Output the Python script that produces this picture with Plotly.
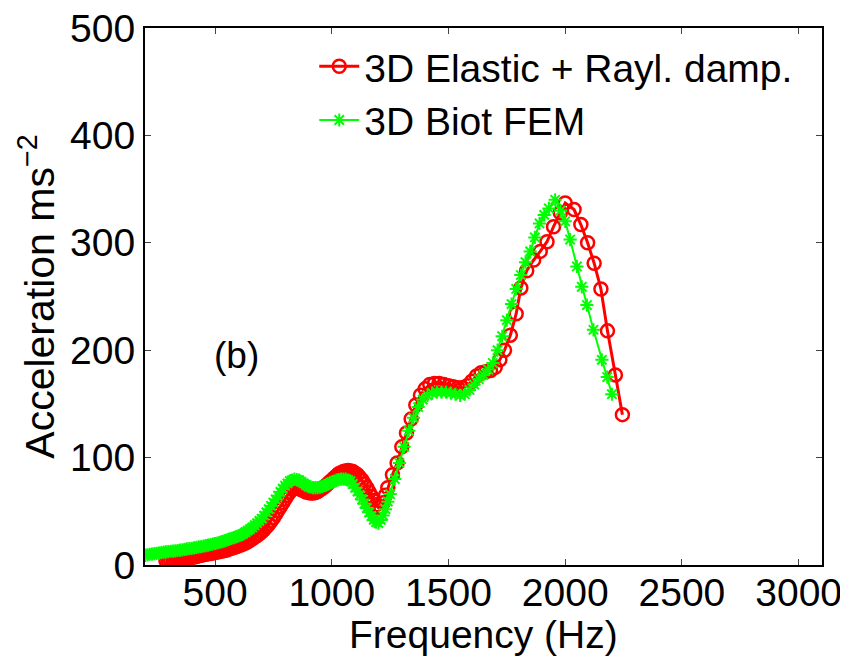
import plotly.graph_objects as go

# Red: 3D Elastic + Rayleigh damping
elastic_freq = [290, 300, 310, 320, 330, 340, 350, 360, 370, 380, 390, 400, 410, 420, 430, 440,
                450, 460, 470, 480, 490, 500, 510, 520, 530, 540, 550, 560, 570, 580, 590, 600,
                610, 620, 630, 640, 650, 660, 670, 680, 690, 700, 710, 720, 730, 740, 750, 760,
                770, 780, 790, 800, 810, 820, 830, 840, 850, 860, 870, 880, 890, 900, 910, 920,
                930, 940, 950, 960, 970, 980, 990, 1000, 1010, 1020, 1030, 1040, 1050, 1060,
                1070, 1080, 1090, 1100, 1110, 1120, 1130, 1140, 1150, 1160, 1170, 1180, 1190,
                1200, 1210, 1220, 1230, 1240, 1260, 1280, 1300, 1320, 1340, 1360, 1380, 1400,
                1420, 1440, 1460, 1480, 1500, 1520, 1540, 1560, 1580, 1600, 1620, 1640, 1660,
                1680, 1700, 1720, 1740, 1765, 1790, 1810, 1835, 1865, 1893, 1922, 1950, 1979,
                2000, 2038, 2067, 2096, 2124, 2153, 2181, 2215, 2245]
elastic_acc = [4.0, 4.2, 4.5, 4.7, 5.0, 5.2, 5.5, 5.8, 6.0, 6.3, 6.6, 7.0, 7.5, 8.0, 8.5, 9.0,
               9.5, 10.0, 10.5, 10.8, 11.2, 11.6, 12.0, 12.5, 13.0, 13.5, 14.0, 14.8, 15.5, 16.2, 17.0, 17.8,
               18.6, 19.5, 20.5, 21.7, 23.0, 24.5, 26.0, 27.5, 29.0, 31.0, 33.0, 35.5, 38.0, 41.0, 44.0, 47.5,
               51.0, 54.5, 58.0, 61.5, 65.0, 68.0, 70.5, 72.0, 72.0, 71.0, 70.0, 69.0, 68.0, 67.5, 67.0, 67.0,
               67.5, 68.5, 70.0, 71.5, 73.0, 75.0, 77.0, 79.0, 81.0, 83.0, 85.0, 86.0, 87.0, 87.5,
               88.0, 87.5, 87.0, 85.5, 84.0, 81.5, 79.0, 75.5, 72.0, 68.0, 64.0, 60.0, 56.0,
               53.5, 54.0, 58.0, 65.0, 72.0, 84, 95, 110, 123, 136, 149, 158, 164,
               168, 169, 169, 168, 167, 166, 165, 165, 167, 171, 176, 179, 180,
               181, 184, 191, 200, 214, 234, 258, 274, 284, 292, 301, 315, 328,
               337, 331, 317, 300, 281, 257, 218, 177, 140]

# Green: 3D Biot FEM
biot_freq = [200, 210, 220, 230, 240, 250, 260, 270, 280, 290, 300, 310, 320, 330, 340, 350,
             360, 370, 380, 390, 400, 410, 420, 430, 440, 450, 460, 470, 480, 490, 500, 510,
             520, 530, 540, 550, 560, 570, 580, 590, 600, 610, 620, 630, 640, 650, 660, 670,
             680, 690, 700, 710, 720, 730, 740, 750, 760, 770, 780, 790, 800, 810, 820, 830,
             840, 850, 860, 870, 880, 890, 900, 910, 920, 930, 940, 950, 960, 970, 980, 990,
             1000, 1010, 1020, 1030, 1040, 1050, 1060, 1070, 1080, 1090, 1100, 1110, 1120,
             1130, 1140, 1150, 1160, 1170, 1180, 1190, 1200, 1210, 1220, 1230, 1240, 1250,
             1270, 1290, 1310, 1330, 1350, 1370, 1390, 1410, 1430, 1450, 1470, 1490, 1510,
             1530, 1550, 1570, 1590, 1610, 1630, 1650, 1670, 1690, 1710, 1730, 1750, 1770,
             1790, 1810, 1830, 1850, 1870, 1890, 1910, 1930, 1957, 1980, 2000, 2021, 2050,
             2071, 2093, 2121, 2157, 2180, 2200]
biot_acc = [9.0, 9.5, 10.0, 10.2, 10.5, 10.8, 11.0, 11.5, 12.0, 12.2, 12.5, 12.8, 13.0, 13.2, 13.5, 13.8,
            14.0, 14.5, 15.0, 15.2, 15.5, 16.0, 16.5, 16.8, 17.0, 17.5, 18.0, 18.5, 19.0, 19.5, 20.0, 20.5,
            21.0, 21.8, 22.5, 23.2, 24.0, 24.8, 25.5, 26.2, 27.0, 28.0, 29.0, 30.5, 32.0, 33.5, 35.0, 37.0,
            39.0, 41.0, 43.0, 46.0, 49.0, 52.0, 55.0, 58.0, 61.0, 64.5, 68.0, 71.0, 74.0, 76.0, 78.0, 79.0,
            80.0, 79.5, 79.0, 77.5, 76.0, 74.5, 73.0, 72.5, 72.0, 72.0, 72.0, 72.5, 73.0, 74.0, 75.0, 76.0,
            77.0, 78.0, 79.0, 79.5, 80.0, 80.0, 80.0, 79.0, 78.0, 75.5, 72.0, 68.5, 65.0,
            61.0, 57.0, 53.0, 49.0, 45.5, 42.0, 40.0, 39.0, 42.0, 46.0, 52.0, 59.0, 66,
            80, 95, 110, 125, 137, 147, 154, 158, 160, 161, 161, 161, 160,
            159, 158, 159, 163, 168, 173, 177, 182, 188, 200, 213, 228, 243,
            257, 270, 282, 292, 305, 318, 326, 332, 340, 330, 320, 303, 278,
            259, 242, 219, 191, 175, 159]

x_ticks = [500, 1000, 1500, 2000, 2500, 3000]
y_ticks = [0, 100, 200, 300, 400, 500]

FONT = "Liberation Sans, Arial, Helvetica, sans-serif"

fig = go.Figure()
fig.add_trace(go.Scatter(
    x=elastic_freq, y=elastic_acc, mode="lines+markers",
    name="3D Elastic + Rayl. damp.",
    line=dict(color="#ff0000", width=3),
    marker=dict(symbol="circle-open", size=13, color="#ff0000", line=dict(width=2.5, color="#ff0000")),
))
fig.add_trace(go.Scatter(
    x=biot_freq, y=biot_acc, mode="lines+markers",
    name="3D Biot FEM",
    line=dict(color="#00ff00", width=2),
    marker=dict(symbol="asterisk-open", size=11, color="#00ff00", line=dict(width=2, color="#00ff00")),
))

fig.add_annotation(x=590, y=195, text="(b)", showarrow=False,
                   font=dict(size=37, color="black", family=FONT))
# x-axis title placed as text below the tick labels
fig.add_annotation(x=0.5, y=-0.129, xref="paper", yref="paper", xanchor="center", yanchor="middle",
                   text="Frequency (Hz)", showarrow=False,
                   font=dict(size=39, color="black", family=FONT))

axis_common = dict(
    showline=True, linecolor="black", linewidth=2, mirror="ticks",
    ticks="inside", ticklen=6, tickwidth=1, tickcolor="#444",
    showgrid=False, zeroline=False, automargin=False, ticklabeloverflow="allow",
    tickfont=dict(size=39, color="black", family=FONT),
)

fig.update_layout(
    width=840, height=654,
    margin=dict(l=137, r=26, t=20, b=97),
    paper_bgcolor="white", plot_bgcolor="white",
    font=dict(family=FONT, color="black", size=39),
    xaxis=dict(range=[200, 3100], tickvals=x_ticks, ticklabelstandoff=-8, **axis_common),
    yaxis=dict(range=[0, 500], tickvals=y_ticks,
               title=dict(text="Acceleration ms<sup>−2</sup>", font=dict(size=41), standoff=3),
               **axis_common),
    legend=dict(x=0.25, y=0.988, xanchor="left", yanchor="top",
                bgcolor="rgba(0,0,0,0)", borderwidth=0,
                font=dict(size=39, family=FONT), itemwidth=40, tracegroupgap=0),
    showlegend=True,
)

fig.write_html("out.html")
